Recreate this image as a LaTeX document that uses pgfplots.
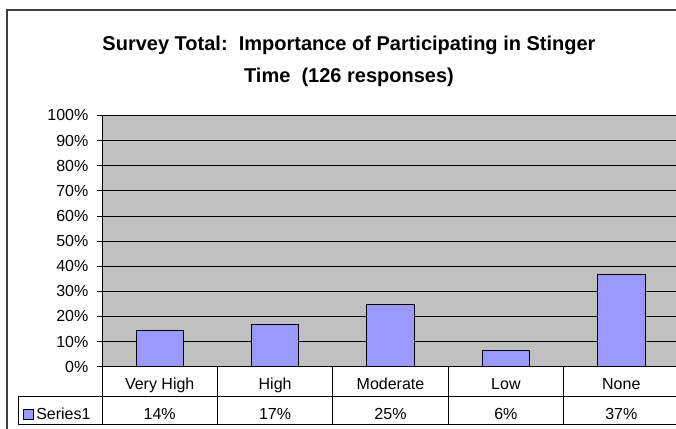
\documentclass[border=0pt]{standalone}
\usepackage{pgfplots}
\pgfplotsset{compat=1.18}
\usepackage{fontspec}
\setmainfont{Liberation Sans}
\definecolor{plotgray}{HTML}{C0C0C0}
\definecolor{barblue}{HTML}{9999FF}
\definecolor{framegray}{HTML}{404040}

\begin{document}
\begin{tikzpicture}
% page = 676 x 429 px, 1 px = 0.75pt
\useasboundingbox (0,0) rectangle (507pt,-321.75pt);
\clip (0,0) rectangle (507pt,-321.75pt);
\fill[white] (0,0) rectangle (507pt,-321.75pt);

\begin{scope}[x=0.75pt,y=-0.75pt]
% chart area frame (cropped right and bottom)
\draw[framegray, line width=1.5pt] (7,10) rectangle (720,470);
% title
\node[font=\bfseries\fontsize{15}{24}\selectfont, align=center] at (349,61)
  {Survey Total:\ \ Importance of Participating in Stinger\\Time\ \ (126 responses)};
\end{scope}

% axis: left edge at 102 px, 0% line at 366.7 px
\begin{axis}[
  at={(76.5pt,-275pt)}, anchor=south west,
  scale only axis, width=432.75pt, height=188.4pt,
  xmin=-0.5, xmax=4.5, ymin=0, ymax=100,
  axis background/.style={fill=plotgray},
  separate axis lines,
  axis x line*=bottom, axis y line*=left,
  axis line style={black, line width=0.6pt},
  ybar, bar width=0.41,
  xtick=data,
  xticklabels={Very High,High,Moderate,Low,None},
  xtick style={draw=none},
  xticklabel style={anchor=base, yshift=-13.2pt},
  ytick={0,10,...,100},
  yticklabels={0\%,10\%,20\%,30\%,40\%,50\%,60\%,70\%,80\%,90\%,100\%},
  yticklabel style={xshift=-3pt},
  tick align=outside, major tick length=3.75pt,
  ytick style={black, line width=0.6pt},
  ymajorgrids, grid style={black, line width=0.6pt},
  tick label style={font=\fontsize{12}{14}\selectfont},
  clip=false,
]
\addplot[fill=barblue, draw=black, line width=0.6pt] coordinates {
  (0,14.3) (1,16.7) (2,24.6) (3,6.3) (4,36.8)};
\end{axis}

\begin{scope}[x=0.75pt,y=-0.75pt]
% data table below the axis
\begin{scope}[line width=0.6pt]
  \foreach \k in {0,...,5} \draw (102+\k*115.4,366.7) -- (102+\k*115.4,424);
  \draw (18,396.7) -- (700,396.7);
  \draw (18,424) -- (700,424);
  \draw (18,396.7) -- (18,424);
\end{scope}
\filldraw[fill=barblue, draw=black, line width=0.5pt] (23,409) rectangle (33,419);
\node[anchor=west, font=\fontsize{12}{14}\selectfont, inner sep=0pt] at (36,414) {Series1};
\foreach \v [count=\i from 0] in {14\%,17\%,25\%,6\%,37\%}
  \node[font=\fontsize{12}{14}\selectfont] at (159.7+\i*115.4,414) {\v};
\end{scope}
\end{tikzpicture}
\end{document}
